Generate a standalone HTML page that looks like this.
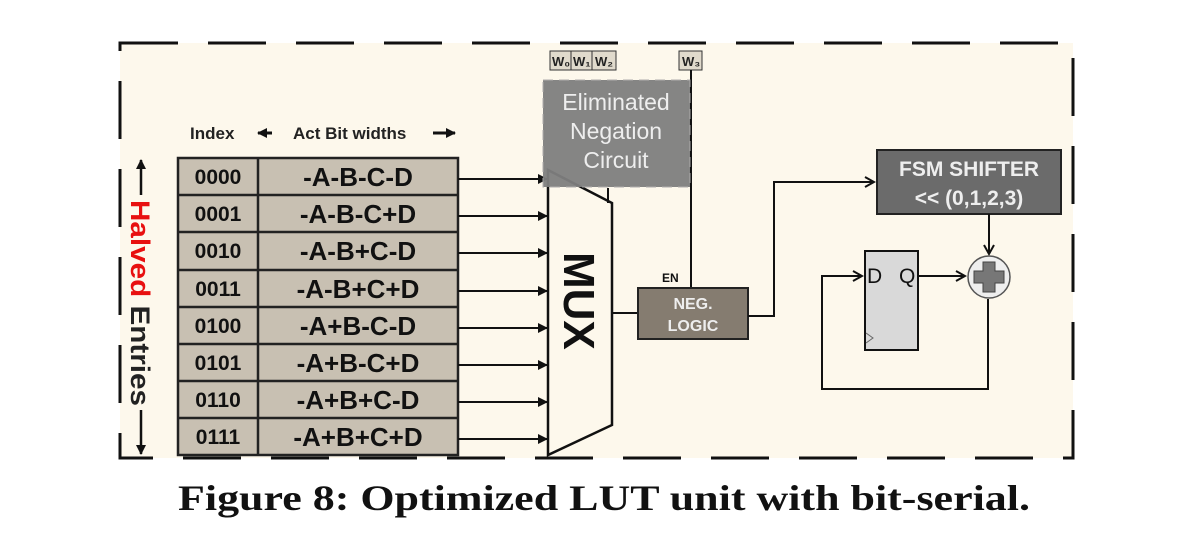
<!DOCTYPE html>
<html><head><style>
body{margin:0;background:#fff;width:1191px;height:535px;overflow:hidden}
svg text{font-family:"Liberation Sans",sans-serif}
</style></head><body>
<svg width="1191" height="535" viewBox="0 0 1191 535">
<defs><marker id="a" markerWidth="10" markerHeight="10" refX="9" refY="5" orient="auto" markerUnits="userSpaceOnUse"><path d="M0,0 L10,5 L0,10 z" fill="#111"/></marker>
<marker id="o" markerWidth="12" markerHeight="12" refX="10" refY="6" orient="auto" markerUnits="userSpaceOnUse"><path d="M1,1 L10,6 L1,11" fill="none" stroke="#111" stroke-width="2"/></marker></defs>
<rect x="120" y="43" width="953" height="415" fill="#fdf8ec"/>
<rect x="120" y="43" width="953" height="415" fill="none" stroke="#111" stroke-width="3" stroke-dasharray="58,30"/>
<text x="190" y="139" font-size="17" font-weight="bold" fill="#222">Index</text>
<text x="293" y="139" font-size="17" font-weight="bold" fill="#222">Act Bit widths</text>
<line x1="272" y1="133" x2="258" y2="133" stroke="#111" stroke-width="3" marker-end="url(#a)"/>
<line x1="433" y1="133" x2="455" y2="133" stroke="#111" stroke-width="3" marker-end="url(#a)"/>
<rect x="178" y="158" width="280" height="297" stroke="#222" stroke-width="2.5" fill="#c8c0b2"/>
<g stroke="#222" stroke-width="2.5">
<line x1="258" y1="158" x2="258" y2="455"/>
<line x1="178" y1="195" x2="458" y2="195"/><line x1="178" y1="232" x2="458" y2="232"/>
<line x1="178" y1="270" x2="458" y2="270"/><line x1="178" y1="307" x2="458" y2="307"/>
<line x1="178" y1="344" x2="458" y2="344"/><line x1="178" y1="381" x2="458" y2="381"/>
<line x1="178" y1="418" x2="458" y2="418"/>
</g>
<g font-size="21" font-weight="bold" fill="#111">
<text x="218" y="184" text-anchor="middle">0000</text><text x="218" y="221" text-anchor="middle">0001</text>
<text x="218" y="258" text-anchor="middle">0010</text><text x="218" y="296" text-anchor="middle">0011</text>
<text x="218" y="333" text-anchor="middle">0100</text><text x="218" y="370" text-anchor="middle">0101</text>
<text x="218" y="407" text-anchor="middle">0110</text><text x="218" y="444" text-anchor="middle">0111</text>
</g>
<g font-size="26" font-weight="bold" fill="#111" text-anchor="middle">
<text x="358" y="186">-A-B-C-D</text><text x="358" y="223">-A-B-C+D</text>
<text x="358" y="260">-A-B+C-D</text><text x="358" y="298">-A-B+C+D</text>
<text x="358" y="335">-A+B-C-D</text><text x="358" y="372">-A+B-C+D</text>
<text x="358" y="409">-A+B+C-D</text><text x="358" y="446">-A+B+C+D</text>
</g>
<g stroke="#111" stroke-width="2" marker-end="url(#a)">
<line x1="458" y1="179" x2="547" y2="179"/><line x1="458" y1="216" x2="547" y2="216"/>
<line x1="458" y1="253" x2="547" y2="253"/><line x1="458" y1="291" x2="547" y2="291"/>
<line x1="458" y1="328" x2="547" y2="328"/><line x1="458" y1="365" x2="547" y2="365"/>
<line x1="458" y1="402" x2="547" y2="402"/><line x1="458" y1="439" x2="547" y2="439"/>
</g>
<line x1="141" y1="195" x2="141" y2="160" stroke="#111" stroke-width="2.5" marker-end="url(#a)"/>
<line x1="141" y1="410" x2="141" y2="454" stroke="#111" stroke-width="2.5" marker-end="url(#a)"/>
<text transform="translate(131,200) rotate(90)" font-size="27" font-weight="bold" textLength="206" lengthAdjust="spacingAndGlyphs"><tspan fill="#e81010">Halved</tspan><tspan fill="#222"> Entries</tspan></text>
<path d="M548,170 L612,203 L612,425 L548,455 Z" fill="#fdf8ec" stroke="#111" stroke-width="2.5"/>
<text transform="translate(564,252) rotate(90)" font-size="44" font-weight="bold" fill="#111">MUX</text>
<g stroke="#333">
<rect x="550" y="51" width="21" height="19" fill="#e0dacc"/><rect x="571" y="51" width="21" height="19" fill="#e0dacc"/>
<rect x="592" y="51" width="24" height="19" fill="#e0dacc"/><rect x="679" y="51" width="23" height="19" fill="#e0dacc"/>
</g>
<g font-size="13" font-weight="bold" fill="#222">
<text x="552" y="66">W₀</text><text x="573" y="66">W₁</text><text x="595" y="66">W₂</text><text x="682" y="66">W₃</text>
</g>
<line x1="691" y1="70" x2="691" y2="288" stroke="#111" stroke-width="2"/>
<line x1="608" y1="188" x2="608" y2="203" stroke="#111" stroke-width="2"/>
<rect x="543" y="80" width="147" height="107" fill="#7f7f7f" opacity="0.95" stroke="#aaa" stroke-dasharray="10,6"/>
<g font-size="23" fill="#eee" text-anchor="middle">
<text x="616" y="110">Eliminated</text><text x="616" y="139">Negation</text><text x="616" y="168">Circuit</text>
</g>
<line x1="612" y1="313" x2="638" y2="313" stroke="#111" stroke-width="2"/>
<rect x="638" y="288" width="110" height="51" fill="#857c70" stroke="#222" stroke-width="2"/>
<text x="693" y="309" font-size="16" font-weight="bold" fill="#eee" text-anchor="middle">NEG.</text>
<text x="693" y="331" font-size="16" font-weight="bold" fill="#eee" text-anchor="middle">LOGIC</text>
<text x="662" y="282" font-size="12" font-weight="bold" fill="#111">EN</text>
<polyline points="748,316 774,316 774,182 874,182" fill="none" stroke="#111" stroke-width="2" marker-end="url(#o)"/>
<rect x="877" y="150" width="184" height="64" fill="#6b6b6b" stroke="#222" stroke-width="2"/>
<text x="969" y="176" font-size="21" font-weight="bold" fill="#eee" text-anchor="middle">FSM SHIFTER</text>
<text x="969" y="205" font-size="21" font-weight="bold" fill="#eee" text-anchor="middle">&lt;&lt; (0,1,2,3)</text>
<line x1="989" y1="214" x2="989" y2="254" stroke="#111" stroke-width="2" marker-end="url(#o)"/>
<rect x="865" y="251" width="53" height="99" fill="#d9d9d9" stroke="#111" stroke-width="2"/>
<path d="M866,333 L873,338 L866,343" fill="none" stroke="#666"/>
<text x="867" y="283" font-size="21" fill="#111">D</text><text x="899" y="283" font-size="21" fill="#111">Q</text>
<polyline points="988,299 988,389 822,389 822,276 862,276" fill="none" stroke="#111" stroke-width="2" marker-end="url(#o)"/>
<line x1="918" y1="276" x2="965" y2="276" stroke="#111" stroke-width="2" marker-end="url(#o)"/>
<circle cx="989" cy="277" r="21" fill="#eee" stroke="#555" stroke-width="1.5"/>
<path d="M983,262 h12 v9 h9 v12 h-9 v9 h-12 v-9 h-9 v-12 h9 z" fill="#777" stroke="#444"/>
<text x="178" y="510" font-size="36" font-weight="bold" fill="#111" textLength="852" lengthAdjust="spacingAndGlyphs" style="font-family:'Liberation Serif',serif">Figure 8: Optimized LUT unit with bit-serial.</text>
</svg>
</body></html>
